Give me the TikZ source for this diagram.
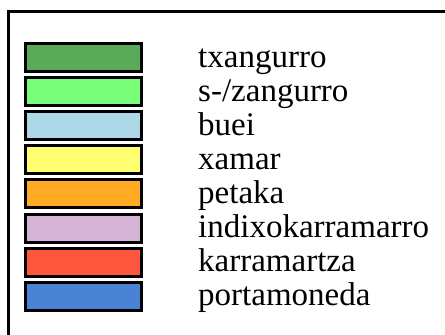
\documentclass[tikz,border=0pt]{standalone}
\usepackage{fontspec}
\setmainfont{Liberation Serif}
\definecolor{cA}{RGB}{89,170,89}
\definecolor{cB}{RGB}{122,255,122}
\definecolor{cC}{RGB}{173,216,232}
\definecolor{cD}{RGB}{255,255,112}
\definecolor{cE}{RGB}{255,170,34}
\definecolor{cF}{RGB}{214,180,214}
\definecolor{cG}{RGB}{255,87,61}
\definecolor{cH}{RGB}{74,130,212}
\tikzset{
  swatch/.style={draw=black, line width=3pt},
  lbl/.style={anchor=base west, inner sep=0pt, font=\fontsize{33}{36}\selectfont},
}
\begin{document}
\begin{tikzpicture}[x=1pt,y=-1pt]
\useasboundingbox (0,0) rectangle (445,335);
\clip (0,0) rectangle (445,335);
\draw[line width=3pt] (8.5,11.5) rectangle (470,360);
\foreach \c [count=\i from 0] in {cA,cB,cC,cD,cE,cF,cG,cH} {
  \draw[swatch, fill=\c] (25.5,43.5+34.1*\i) rectangle (141.5,71.5+34.1*\i);
}
\foreach \t [count=\i from 0] in {txangurro,s-/zangurro,buei,xamar,petaka,indixokarramarro,karramartza,portamoneda} {
  \node[lbl] (t\i) at (198,67+34.1*\i) {\t};
}
\end{tikzpicture}
\end{document}
